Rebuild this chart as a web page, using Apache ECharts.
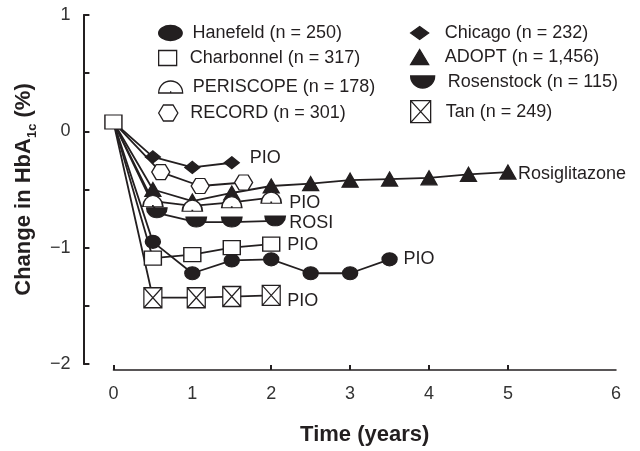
<!DOCTYPE html>
<html>
<head>
<meta charset="utf-8">
<script src="https://cdn.jsdelivr.net/npm/echarts@6/dist/echarts.min.js"></script>
<style>html,body{margin:0;padding:0;background:#fff}#chart{width:640px;height:451px}</style>
</head>
<body>
<div id="chart"></div>
<script>
// change in HbA1c (%) vs time (years), one line per study
const hanefeld = [[0, 0.08], [0.5, -0.95], [1, -1.22], [1.5, -1.11], [2, -1.10], [2.5, -1.22], [3, -1.22], [3.5, -1.10]];
const charbonnel = [[0, 0.08], [0.5, -1.09], [1, -1.06], [1.5, -1.0], [2, -0.97]];
const periscope = [[0, 0.08], [0.5, -0.6], [1, -0.64], [1.5, -0.61], [2, -0.57]];
const record = [[0, 0.08], [0.6, -0.35], [1.1, -0.47], [1.65, -0.44]];
const chicago = [[0, 0.08], [0.5, -0.22], [1, -0.31], [1.5, -0.27]];
const adopt = [[0, 0.08], [0.5, -0.5], [1, -0.6], [1.5, -0.53], [2, -0.47], [2.5, -0.45], [3, -0.42], [3.5, -0.41], [4, -0.4], [4.5, -0.37], [5, -0.35]];
const rosenstock = [[0, 0.08], [0.55, -0.7], [1.05, -0.78], [1.5, -0.78], [2.05, -0.77]];
const tan = [[0, 0.08], [0.5, -1.43], [1.05, -1.43], [1.5, -1.42], [2, -1.41]];

const xTickValues = [0, 1, 2, 3, 4, 5, 6.37];
const xTickLabels = ['0', '1', '2', '3', '4', '5', '6'];
const xTickMarks = [0, 2, 3, 4, 5];

const INK = '#231f20';
const FONT = '"Liberation Sans", Arial, sans-serif';

const sym = {
  ellipse: 'path://M0,7A11,7 0 0 1 22,7A11,7 0 0 1 0,7Z',
  square: 'path://M0,0H18V15H0Z',
  dome: 'path://M0,10A10,10 0 0 1 20,10ZM10,10L10,8.5',
  hex: 'path://M0,5L3,0L9,0L12,5L9,10L3,10Z',
  bowl: 'path://M0,0A10,10 0 0 0 20,0Z',
  xbox: 'path://M0,0H10V11H0ZM0,0L10,11M10,0L0,11',
  diamond: 'path://M9,0L18,6.5L9,13L0,6.5Z',
  triangle: 'path://M9,0L18,15L0,15Z'
};

// legend columns: [left, itemWidth] so the icon centre and the text start land where they do in the figure
const colL = [158, 34];
const colR = [410, 40];

// drawn in this order (last on top)
const studies = [
  { name: 'ADOPT (n = 1,456)', data: adopt, symbol: sym.triangle, size: [16, 14], fill: INK, col: colR, row: 57, iconH: 15, end: 'Rosiglitazone', endDist: 10, endDy: 2 },
  { name: 'Chicago (n = 232)', data: chicago, symbol: sym.diamond, size: [15, 12], fill: INK, col: colR, row: 33, iconH: 13, end: 'PIO', endDist: 18, endDy: -5 },
  { name: 'RECORD (n = 301)', data: record, symbol: sym.hex, size: [18, 15], fill: '#fff', col: colL, row: 113, iconH: 16 },
  { name: 'PERISCOPE (n = 178)', data: periscope, symbol: sym.dome, size: [20, 11], fill: '#fff', col: colL, row: 87, iconH: 12, end: 'PIO', endDist: 18, endDy: 5 },
  { name: 'Rosenstock (n = 115)', data: rosenstock, symbol: sym.bowl, size: [20, 10], fill: INK, col: colR, row: 82, iconH: 12, end: 'ROSI', endDist: 14, endDy: 2 },
  { name: 'Tan (n = 249)', data: tan, symbol: sym.xbox, size: [18, 20], fill: '#fff', col: colR, row: 111, iconH: 22, end: 'PIO', endDist: 16, endDy: 6 },
  { name: 'Hanefeld (n = 250)', data: hanefeld, symbol: sym.ellipse, size: [15, 13], fill: INK, col: colL, row: 33, iconH: 15, end: 'PIO', endDist: 14, endDy: 0 },
  { name: 'Charbonnel (n = 317)', data: charbonnel, symbol: sym.square, size: [17, 14], fill: '#fff', col: colL, row: 58, iconH: 15, end: 'PIO', endDist: 16, endDy: 1, showStart: true }
];

const chart = echarts.init(document.getElementById('chart'));

const series = studies.map((s) => ({
  name: s.name,
  type: 'line',
  data: s.data.map((p, i) => (i === 0 && !s.showStart ? { value: p, symbol: 'none' } : p)),
  symbol: s.symbol,
  symbolSize: s.size,
  showAllSymbol: true,
  clip: false,
  animation: false,
  lineStyle: { color: INK, width: 1.8 },
  itemStyle: { color: s.fill, borderColor: INK, borderWidth: 1.3 },
  emphasis: { disabled: true },
  endLabel: s.end ? {
    show: true,
    formatter: s.end,
    distance: s.endDist,
    offset: [0, s.endDy],
    color: INK,
    fontSize: 18,
    fontFamily: FONT
  } : { show: false }
}));

const legends = studies.map((s) => ({
  data: [{ name: s.name, icon: s.symbol }],
  left: s.col[0],
  top: s.row - Math.max(s.iconH, 18) / 2,
  itemWidth: s.col[1],
  itemHeight: s.iconH,
  symbolKeepAspect: true,
  selectedMode: false,
  padding: 0,
  itemStyle: { color: s.fill, borderColor: INK, borderWidth: 1.3 },
  textStyle: { color: INK, fontSize: 18, fontFamily: FONT }
}));

chart.setOption({
  animation: false,
  textStyle: { fontFamily: FONT },
  grid: { left: 105, right: 24, top: 15, bottom: 80, containLabel: false },
  legend: legends,
  xAxis: {
    type: 'value',
    min: 0,
    max: 6.37,
    offset: 6,
    axisLine: { show: true, onZero: false, lineStyle: { color: INK, width: 1.5 } },
    axisTick: { show: true, inside: true, length: 5, customValues: xTickMarks, lineStyle: { color: INK, width: 2 } },
    axisLabel: {
      customValues: xTickValues,
      formatter: (v) => xTickLabels[xTickValues.indexOf(v)],
      margin: 15,
      fontSize: 18,
      color: '#333'
    },
    splitLine: { show: false },
    name: 'Time (years)',
    nameLocation: 'middle',
    nameGap: 54,
    nameTextStyle: { fontSize: 22, fontWeight: 'bold', color: INK }
  },
  yAxis: {
    type: 'value',
    min: -2,
    max: 1,
    interval: 0.5,
    offset: 30,
    axisLine: { show: true, onZero: false, lineStyle: { color: INK, width: 2 } },
    axisTick: { show: true, inside: true, length: 6, lineStyle: { color: INK, width: 2 } },
    axisLabel: {
      margin: 13,
      fontSize: 18,
      color: '#333',
      formatter: (v) => (Number.isInteger(v) ? (v < 0 ? '\u2212' + Math.abs(v) : String(v)) : '')
    },
    splitLine: { show: false },
    name: 'Change in HbA{s|1c} (%)',
    nameLocation: 'middle',
    nameGap: 37,
    nameRotate: 90,
    nameTextStyle: {
      fontSize: 22,
      fontWeight: 'bold',
      color: INK,
      lineHeight: 23,
      rich: {
        s: { fontSize: 13, fontWeight: 'bold', color: INK, lineHeight: 31, verticalAlign: 'bottom' }
      }
    }
  },
  series: series
});
</script>
</body>
</html>
